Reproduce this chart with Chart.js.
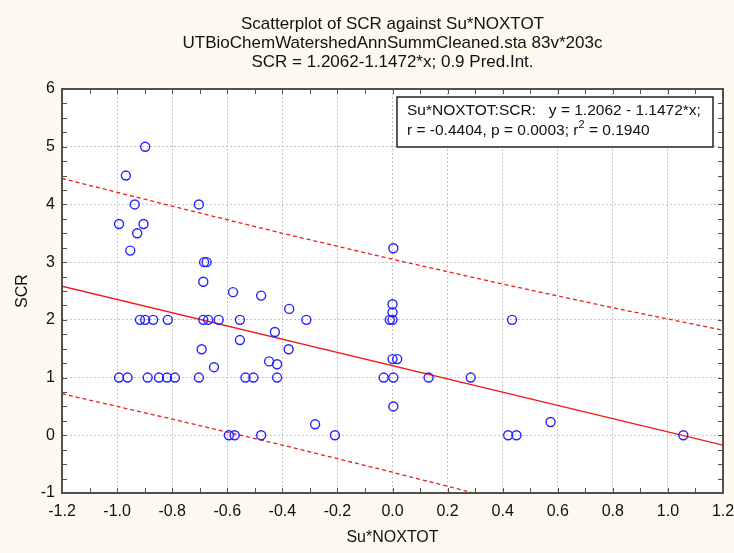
<!DOCTYPE html>
<html>
<head>
<meta charset="utf-8">
<script src="https://cdn.jsdelivr.net/npm/chart.js@4/dist/chart.umd.min.js"></script>
<style>
  html, body { margin: 0; padding: 0; background: #fdf9ee; }
  #wrap { width: 734px; height: 553px; }
</style>
</head>
<body>
<div id="wrap"><canvas id="myChart" width="734" height="553"></canvas></div>
<script>
// values
var suNoxtot = [-0.898, -0.968, -0.936, -0.703, -0.993, -0.904, -0.927, -0.952, 0.003, -0.684,
  -0.675, -0.687, -0.579, -0.477, -0.375, 0.0, 0.0,
  -0.917, -0.898, -0.869, -0.816, -0.687, -0.669, -0.631, -0.554, -0.313, -0.01, 0.0, 0.434,
  -0.427, -0.554, -0.693, -0.377, -0.448, -0.419, -0.648, 0.0, 0.017,
  -0.993, -0.962, -0.889, -0.848, -0.819, -0.790, -0.703, -0.534, -0.505, -0.419, -0.032, 0.003, 0.131, 0.284,
  0.003, -0.281, 0.574,
  -0.594, -0.573, -0.477, -0.209, 0.42, 0.45, 1.056];
var scr = [5.0, 4.5, 4.0, 4.0, 3.66, 3.66, 3.5, 3.2, 3.24, 3.0,
  3.0, 2.66, 2.48, 2.42, 2.19, 2.27, 2.13,
  2, 2, 2, 2, 2, 2, 2, 2, 2, 2, 2, 2,
  1.79, 1.65, 1.49, 1.49, 1.28, 1.23, 1.18, 1.32, 1.32,
  1, 1, 1, 1, 1, 1, 1, 1, 1, 1, 1, 1, 1, 1,
  0.5, 0.19, 0.23,
  0, 0, 0, 0, 0, 0, 0];

var fitX = [-1.2, 1.2];
var fitY = [2.583, -0.170];

var piX = [-1.2, -0.8, -0.4, 0.0, 0.4, 0.8, 1.2];
var piUpper = [4.45, 3.97, 3.50, 3.05, 2.62, 2.21, 1.82];
var piLower = [0.72, 0.28, -0.17, -0.64, -1.13, -1.63, -2.16];

var titleLines = ['Scatterplot of SCR against Su*NOXTOT',
  'UTBioChemWatershedAnnSummCleaned.sta 83v*203c',
  'SCR = 1.2062-1.1472*x; 0.9 Pred.Int.'];
var statsLine1 = 'Su*NOXTOT:SCR:   y = 1.2062 - 1.1472*x;';
var statsLine2 = ['r = -0.4404, p = 0.0003; r', '2', ' = 0.1940'];

var FONT = '"Liberation Sans", Arial, sans-serif';

function pairs(xs, ys) {
  return xs.map(function(x, i) { return {x: x, y: ys[i]}; });
}

// white plot background
var plotBg = {
  id: 'plotBg',
  beforeDraw: function(chart) {
    var a = chart.chartArea, ctx = chart.ctx;
    ctx.save();
    ctx.fillStyle = '#fdf9ee';
    ctx.fillRect(0, 0, chart.width, chart.height);
    ctx.fillStyle = '#ffffff';
    ctx.fillRect(a.left, a.top, a.right - a.left, a.bottom - a.top);
    ctx.restore();
  }
};

// frame, inward ticks, titles and stats box
var decor = {
  id: 'decor',
  afterDraw: function(chart) {
    var a = chart.chartArea, ctx = chart.ctx;
    var xs = chart.scales.x, ys = chart.scales.y;
    ctx.save();
    ctx.strokeStyle = '#505050';
    ctx.lineWidth = 1;
    ctx.beginPath();
    for (var i = -12; i <= 12; i++) {
      var px = Math.round(xs.getPixelForValue(i / 10)) + 0.5;
      ctx.moveTo(px, a.bottom); ctx.lineTo(px, a.bottom - 5);
      ctx.moveTo(px, a.top); ctx.lineTo(px, a.top + 5);
    }
    for (var j = -4; j <= 24; j++) {
      var py = Math.round(ys.getPixelForValue(j / 4)) + 0.5;
      ctx.moveTo(a.left, py); ctx.lineTo(a.left + 5, py);
      ctx.moveTo(a.right, py); ctx.lineTo(a.right - 5, py);
    }
    ctx.stroke();
    ctx.lineWidth = 2;
    ctx.strokeRect(a.left, a.top, a.right - a.left, a.bottom - a.top);

    // titles
    ctx.fillStyle = '#111';
    ctx.font = '17px ' + FONT;
    ctx.textAlign = 'center';
    ctx.textBaseline = 'middle';
    var cx = (a.left + a.right) / 2;
    titleLines.forEach(function(t, k) { ctx.fillText(t, cx, 24 + k * 19); });

    // stats box
    var bx = a.left + 335, by = a.top + 8, bw = 316, bh = 50;
    ctx.fillStyle = '#ffffff';
    ctx.fillRect(bx, by, bw, bh);
    ctx.strokeStyle = '#222';
    ctx.lineWidth = 1.5;
    ctx.strokeRect(bx, by, bw, bh);
    ctx.fillStyle = '#111';
    ctx.textAlign = 'left';
    ctx.font = '15.5px ' + FONT;
    ctx.fillText(statsLine1, bx + 10, by + 14);
    var tx = bx + 10, ty = by + 34;
    ctx.fillText(statsLine2[0], tx, ty);
    tx += ctx.measureText(statsLine2[0]).width;
    ctx.font = '11px ' + FONT;
    ctx.fillText(statsLine2[1], tx, ty - 6);
    tx += ctx.measureText(statsLine2[1]).width;
    ctx.font = '15.5px ' + FONT;
    ctx.fillText(statsLine2[2], tx, ty);
    ctx.restore();
  }
};

var ctx = document.getElementById('myChart');
var myChart = new Chart(ctx, {
  type: 'scatter',
  data: {
    datasets: [
      {
        label: 'SCR',
        data: pairs(suNoxtot, scr),
        showLine: false,
        pointStyle: 'circle',
        pointRadius: 4.5,
        pointBorderWidth: 1.4,
        pointBorderColor: '#2323ff',
        pointBackgroundColor: 'rgba(0,0,0,0)',
        clip: false,
        order: 0
      },
      {
        label: 'fit',
        data: pairs(fitX, fitY),
        showLine: true,
        borderColor: '#f21a1a',
        borderWidth: 1.3,
        pointRadius: 0,
        clip: 0,
        order: 1
      },
      {
        label: 'upper',
        data: pairs(piX, piUpper),
        showLine: true,
        borderColor: '#f21a1a',
        borderWidth: 1.3,
        borderDash: [4, 3],
        pointRadius: 0,
        clip: 0,
        order: 1
      },
      {
        label: 'lower',
        data: pairs(piX, piLower),
        showLine: true,
        borderColor: '#f21a1a',
        borderWidth: 1.3,
        borderDash: [4, 3],
        pointRadius: 0,
        clip: 0,
        order: 1
      }
    ]
  },
  options: {
    responsive: false,
    animation: false,
    layout: { padding: { left: 0, right: 11, top: 89, bottom: 0 } },
    plugins: {
      legend: { display: false },
      tooltip: { enabled: false },
      title: { display: false }
    },
    scales: {
      x: {
        type: 'linear',
        min: -1.2,
        max: 1.2,
        ticks: {
          stepSize: 0.2,
          color: '#111',
          font: { family: FONT, size: 16 },
          padding: 9,
          maxRotation: 0,
          callback: function(v) { return (Math.abs(v) < 1e-9 ? 0 : v).toFixed(1); }
        },
        grid: { color: '#c4c4c4', lineWidth: 1, drawTicks: false },
        border: { display: false, dash: [2, 2] },
        title: {
          display: true,
          text: 'Su*NOXTOT',
          color: '#111',
          font: { family: FONT, size: 16 },
          padding: { top: 0, bottom: 6 }
        },
        afterFit: function(s) { s.height = 60; s.paddingLeft = 0; s.paddingRight = 0; }
      },
      y: {
        type: 'linear',
        min: -1,
        max: 6,
        ticks: {
          stepSize: 1,
          color: '#111',
          font: { family: FONT, size: 16 },
          padding: 7
        },
        grid: { color: '#c4c4c4', lineWidth: 1, drawTicks: false },
        border: { display: false, dash: [2, 2] },
        title: {
          display: true,
          text: 'SCR',
          color: '#111',
          font: { family: FONT, size: 16 },
          padding: { top: 13, bottom: 0 }
        },
        afterFit: function(s) { s.width = 62; s.paddingTop = 0; s.paddingBottom = 0; }
      }
    }
  },
  plugins: [plotBg, decor]
});
</script>
</body>
</html>
